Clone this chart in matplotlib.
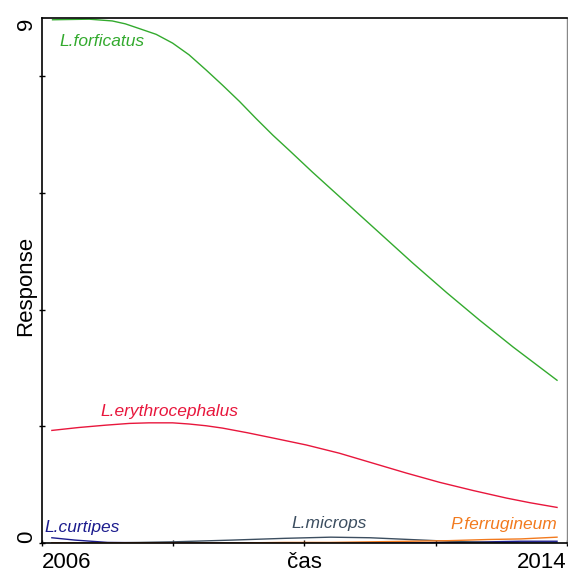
import matplotlib
matplotlib.use('Agg')
import matplotlib.pyplot as plt

# values
years_forficatus = [2006.16, 2006.72, 2007.07, 2007.27, 2007.48, 2007.74, 2007.99, 2008.24,
                    2008.50, 2008.75, 2009.01, 2009.26, 2009.52, 2009.77, 2010.12, 2010.64,
                    2011.15, 2011.65, 2012.17, 2012.67, 2013.18, 2013.85]
forficatus = [8.97, 8.98, 8.95, 8.90, 8.82, 8.72, 8.57, 8.37, 8.11, 7.85, 7.57, 7.28, 6.99,
              6.73, 6.36, 5.83, 5.31, 4.80, 4.29, 3.82, 3.36, 2.79]

years_erythro = [2006.15, 2006.56, 2006.97, 2007.33, 2007.63, 2007.99, 2008.24, 2008.50,
                 2008.75, 2009.13, 2009.52, 2010.03, 2010.53, 2011.04, 2011.55, 2012.06,
                 2012.57, 2013.08, 2013.44, 2013.85]
erythrocephalus = [1.93, 1.98, 2.02, 2.05, 2.06, 2.06, 2.04, 2.01, 1.97, 1.89, 1.80, 1.68,
                   1.54, 1.37, 1.20, 1.04, 0.90, 0.77, 0.69, 0.61]

years_small = [2006.15, 2006.5, 2007.0, 2008.0, 2008.9, 2009.7, 2010.4, 2011.0, 2011.6,
               2012.2, 2012.8, 2013.3, 2013.85]
curtipes = [0.09, 0.05, 0.01, 0.0, 0.0, 0.0, 0.0, 0.0, 0.0, 0.01, 0.02, 0.03, 0.03]
microps = [0.0, 0.0, 0.0, 0.02, 0.05, 0.08, 0.10, 0.09, 0.06, 0.03, 0.01, 0.0, 0.0]
ferrugineum = [0.0, 0.0, 0.0, 0.0, 0.0, 0.01, 0.01, 0.02, 0.03, 0.04, 0.06, 0.07, 0.10]

x_ticks = [2006, 2008, 2010, 2012, 2014]
x_labels = ['2006', '', 'čas', '', '2014']
y_ticks = [0, 2, 4, 6, 8, 9]
y_labels = ['0', '', '', '', '', '9']

green = '#33AA2E'
red = '#E8163C'
navy = '#1C1C8E'
slate = '#3C4E60'
orange = '#F27A1E'

plt.rcParams['font.family'] = ['Liberation Sans', 'DejaVu Sans']

fig = plt.figure(figsize=(5.68, 5.72), dpi=100)
ax = fig.add_axes([0.074, 0.0507, 0.924, 0.9178])

ax.plot(years_forficatus, forficatus, color=green, lw=1.0)
ax.plot(years_erythro, erythrocephalus, color=red, lw=1.0)
ax.plot(years_small, curtipes, color=navy, lw=1.0)
ax.plot(years_small, microps, color=slate, lw=1.0)
ax.plot(years_small, ferrugineum, color=orange, lw=1.0)

# species labels
lab = dict(fontsize=12.5, style='italic')
ax.text(2006.26, 8.59, 'L.forficatus', color=green, ha='left', va='center', **lab)
ax.text(2006.89, 2.26, 'L.erythrocephalus', color=red, ha='left', va='center', **lab)
ax.text(2006.03, 0.27, 'L.curtipes', color=navy, ha='left', va='center', **lab)
ax.text(2010.38, 0.34, 'L.microps', color=slate, ha='center', va='center', **lab)
ax.text(2013.85, 0.31, 'P.ferrugineum', color=orange, ha='right', va='center', **lab)

ax.set_xlim(2006, 2014)
ax.set_ylim(0, 9)
ax.set_xticks(x_ticks)
ax.set_xticklabels(x_labels)
ax.set_yticks(y_ticks)
ax.set_yticklabels(y_labels, rotation=90)
ax.yaxis.get_major_ticks()[-1].tick1line.set_visible(False)
ax.tick_params(direction='inout', length=5, width=1, labelsize=16, pad=4)
ax.tick_params(axis='y', pad=1)

xl = ax.get_xticklabels()
xl[0].set_ha('left')
xl[-1].set_ha('right')
yl = ax.get_yticklabels()
yl[0].set_va('bottom')
yl[-1].set_va('top')

ax.set_ylabel('Response', fontsize=16)
ax.yaxis.set_label_coords(-0.012, 0.49)

for side in ['left', 'bottom', 'top']:
    ax.spines[side].set_linewidth(1.2)
ax.spines['right'].set_color('#888888')
ax.spines['right'].set_linewidth(1.0)

fig.savefig('out.png', dpi=100)
